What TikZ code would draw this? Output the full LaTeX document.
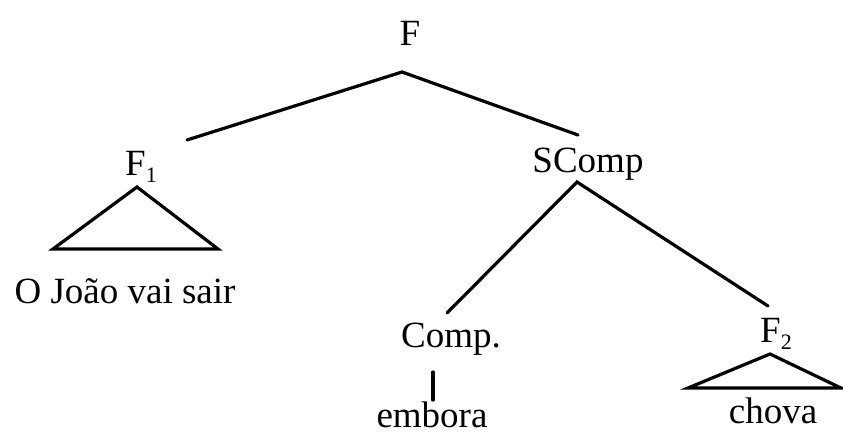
\documentclass[tikz,border=0pt]{standalone}
\usepackage{fontspec}
\setmainfont{Liberation Serif}
\newcommand{\subn}[1]{\raisebox{-7pt}{\fontsize{22}{22}\selectfont #1}}
\begin{document}
\begin{tikzpicture}[x=1pt,y=-1pt,
  lbl/.style={inner sep=0pt,font=\fontsize{37}{40}\selectfont},
  edge/.style={line width=3.2pt,line cap=round,line join=miter}]
\useasboundingbox (0,0) rectangle (843,434);
% labels
\node[lbl,anchor=base] (F) at (410,45) {F};
\node[lbl,anchor=base west] (F1) at (125,175) {F\subn{1}};
\node[lbl,anchor=base] (SComp) at (588,172) {SComp};
\node[lbl,anchor=base] (joao) at (125,303) {O João vai sair};
\node[lbl,anchor=base] (Comp) at (451,347) {Comp.};
\node[lbl,anchor=base] (embora) at (432,427) {embora};
\node[lbl,anchor=base west] (F2) at (760,342) {F\subn{2}};
\node[lbl,anchor=base] (chova) at (773,423) {chova};
% connector points
\coordinate (Fbot) at (402,72);
\coordinate (F1top) at (187,140);
\coordinate (SCtop) at (578,135);
\coordinate (SCbot) at (577,182);
\coordinate (Comptop) at (447,313);
\coordinate (F2top) at (768,306);
\coordinate (Compbot) at (433,372);
\coordinate (emtop) at (433,400);
% triangle F1
\coordinate (t1a) at (137,187);
\coordinate (t1l) at (53,249);
\coordinate (t1r) at (218,249);
% triangle F2
\coordinate (t2a) at (770,354);
\coordinate (t2l) at (688,388);
\coordinate (t2r) at (841,388);
% edges
\draw[edge] (F1top) -- (Fbot) -- (SCtop);
\draw[edge] (Comptop) -- (SCbot) -- (F2top);
\draw[edge] (Compbot) -- (emtop);
\draw[edge] (t1a) -- (t1l) -- (t1r) -- cycle;
\draw[edge] (t2a) -- (t2l) -- (t2r) -- cycle;
\end{tikzpicture}
\end{document}
